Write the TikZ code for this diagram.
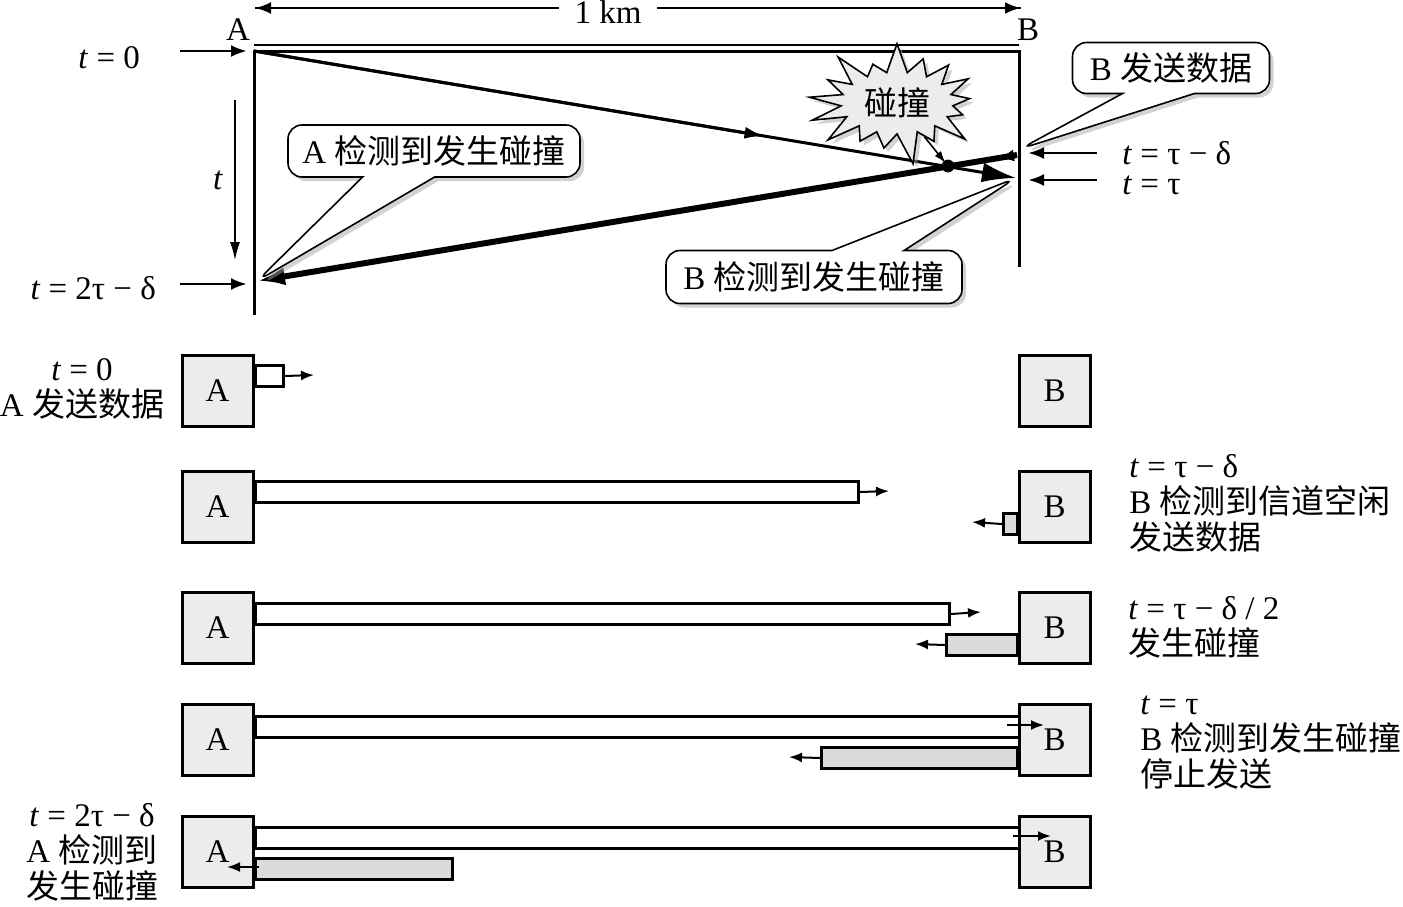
\documentclass[tikz,border=0pt]{standalone}
\usepackage{fontspec}
\setmainfont{Liberation Serif}
\newfontfamily\cjk{Noto Sans CJK SC}
\usetikzlibrary{positioning,arrows.meta,calc,shapes.symbols,shapes.callouts,shadows}
\newcommand{\zh}[1]{{\cjk #1}}

\tikzset{
  every node/.style={font=\fontsize{16.5}{18}\selectfont},
  station/.style={draw,line width=1.5pt,fill=gray!15,minimum size=35.5pt,inner sep=0pt},
  frame/.style={draw,line width=1.5pt,fill=white,inner sep=0pt,minimum height=10.5pt,anchor=north west},
  jam/.style={frame,fill=gray!28},
  sig/.style={-{Latex[length=6.5pt,width=5pt]},line width=1pt},
  pointer/.style={-{Latex[length=8pt,width=6pt]},line width=1.4pt},
  say/.style={rectangle callout,draw,line width=0.8pt,fill=white,rounded corners=7pt,
    drop shadow={shadow xshift=2pt,shadow yshift=-2pt,fill=gray!70},
    callout pointer width=36pt,inner sep=0pt},
  note/.style={align=left,anchor=west,inner sep=0pt}
}

\begin{document}
\begin{tikzpicture}[x=0.5pt,y=-0.5pt]
  \useasboundingbox (0,0) rectangle (1403,906);

  % time diagram
  \coordinate (Atop) at (254,51);
  \coordinate (Btop) at (1019,51);
  \coordinate (Abot) at (254,315);
  \coordinate (Bbot) at (1019,267);
  \coordinate (hit) at (948,166);
  \coordinate (bEnd) at (1016,178);
  \coordinate (bStart) at (1017,155);
  \coordinate (aHit) at (257,281);
  \coordinate (bTip) at (1020,149);

  \draw[line width=1.5pt] (Abot) -- (Atop) -- (Btop) -- (Bbot);
  \draw[line width=1.2pt] ($(Atop)+(0,-6)$) -- ($(Btop)+(0,-6)$);

  \node (lA) at (238,30) {A};
  \node (lB) at (1028,30) {B};
  \coordinate (kmL) at (255,8);
  \coordinate (kmR) at (1021,8);
  \draw[pointer] (kmL) -- (kmR);
  \draw[pointer] (kmR) -- (kmL);
  \node[fill=white,inner xsep=8pt,inner ysep=1pt] (km) at (608,12) {1 km};

  \node[anchor=east] (t0) at (147,58) {\textit{t} = 0};
  \node[anchor=east] (t2) at (163,288) {\textit{t} = 2τ − δ};
  \node (tt) at (218,180) {\textit{t}};
  \node[note] (t1) at (1122,153) {\textit{t} = τ − δ};
  \node[note] (t3) at (1122,185) {\textit{t} = τ};
  \coordinate (t0s) at (180,51);
  \coordinate (t2s) at (180,284);
  \coordinate (t1s) at (1097,153);
  \coordinate (t3s) at (1097,180);
  \coordinate (t1e) at (1028,153);
  \coordinate (t3e) at (1028,180);
  \coordinate (tUp) at (235,100);
  \coordinate (tDn) at (235,260);
  \draw[pointer] (t0s) -- ($(Atop)+(-7,0)$);
  \draw[pointer] (t2s) -- ($(Atop|-t2s)+(-7,0)$);
  \draw[pointer] (t1s) -- (t1e);
  \draw[pointer] (t3s) -- (t3e);
  \draw[-{Latex[length=9pt,width=5pt]},line width=0.7pt] (tUp) -- (tDn);

  % frames on the wire
  \draw[line width=1.5pt,-{Latex[length=17pt,width=10pt]}] (Atop) -- (bEnd);
  \draw[line width=1.5pt,-{Latex[length=10pt,width=6pt]}] (Atop) -- ($(Atop)!0.67!(bEnd)$);
  \draw[line width=3pt,-{Latex[length=14pt,width=9pt]}] (bStart) -- (aHit);
  \draw[line width=1.5pt,-{Latex[length=8pt,width=6pt]}] (bStart) -- ($(bStart)!0.025!(aHit)$);
  \fill (hit) circle (3.2pt);

  \node[starburst,draw,line width=0.8pt,fill=gray!15,minimum width=84pt,minimum height=56pt,
    starburst points=17,starburst point height=16pt,random starburst=40,
    drop shadow={shadow xshift=2pt,shadow yshift=-2pt,fill=gray!70}] (boom) at (897,103) {\zh{碰撞}};
  \draw[-{Latex[length=6pt,width=4pt]},line width=0.8pt,shorten >=2pt] (boom) -- (hit);

  \node[say,minimum width=146pt,minimum height=26pt,callout absolute pointer={(aHit)}]
    (sayA) at (434,151) {A \zh{检测到发生碰撞}};
  \node[say,minimum width=148pt,minimum height=26.5pt,callout absolute pointer={(bEnd)}]
    (sayB) at (814,277) {B \zh{检测到发生碰撞}};
  \node[say,minimum width=98.5pt,minimum height=25.5pt,callout absolute pointer={(bTip)}]
    (sendB) at (1171,68) {B \zh{发送数据}};

  % five snapshots
  \node[frame,minimum width=14pt] (f1) at (254,364) {};
  \node[frame,minimum width=301.5pt] (f2) at (254,480) {};
  \node[jam,minimum width=7pt,anchor=north east] (g2) at (1019,512) {};
  \node[frame,minimum width=347pt] (f3) at (254,602) {};
  \node[jam,minimum width=35.5pt,anchor=north east] (g3) at (1019,633) {};
  \node[frame,minimum width=382.5pt] (f4) at (254,715) {};
  \node[jam,minimum width=98pt,anchor=north east] (g4) at (1019,746) {};
  \node[frame,minimum width=382.5pt] (f5) at (254,826) {};
  \node[jam,minimum width=98.5pt] (g5) at (254,857) {};

  \node[station] (A1) at (217.5,391) {A};
  \node[station] (B1) at (1054.5,391) {B};
  \node[station] (A2) at (217.5,507) {A};
  \node[station] (B2) at (1054.5,507) {B};
  \node[station] (A3) at (217.5,627.5) {A};
  \node[station] (B3) at (1054.5,627.5) {B};
  \node[station] (A4) at (217.5,740) {A};
  \node[station] (B4) at (1054.5,740) {B};
  \node[station] (A5) at (217.5,851.5) {A};
  \node[station] (B5) at (1054.5,851.5) {B};

  \coordinate (f1t) at (314,375);
  \coordinate (f2t) at (889,491);
  \coordinate (g2t) at (972,522);
  \coordinate (f3t) at (981,612);
  \coordinate (g3t) at (915,644);
  \coordinate (f4s) at (1007,725);
  \coordinate (f4t) at (1044,725);
  \coordinate (g4t) at (789,757);
  \coordinate (f5s) at (1013,836);
  \coordinate (f5t) at (1051,836);
  \coordinate (g5s) at (259,867);
  \coordinate (g5t) at (227,867);
  \draw[sig] (f1.east) -- (f1t);
  \draw[sig] (f2.east) -- (f2t);
  \draw[sig] (g2.west) -- (g2t);
  \draw[sig] (f3.east) -- (f3t);
  \draw[sig] (g3.west) -- (g3t);
  \draw[sig] (f4s) -- (f4t);
  \draw[sig] (g4.west) -- (g4t);
  \draw[sig] (f5s) -- (f5t);
  \draw[sig] (g5s) -- (g5t);

  \node[align=center] (n1) at (82,389) {\textit{t} = 0\\A \zh{发送数据}};
  \node[note] (n2) at (1129,503) {\textit{t} = τ − δ\\B \zh{检测到信道空闲}\\\zh{发送数据}};
  \node[note] (n3) at (1128,627) {\textit{t} = τ − δ / 2\\\zh{发生碰撞}};
  \node[note] (n4) at (1140,743) {\textit{t} = τ\\B \zh{检测到发生碰撞}\\\zh{停止发送}};
  \node[align=center] (n5) at (92,852) {\textit{t} = 2τ − δ\\A \zh{检测到}\\\zh{发生碰撞}};
\end{tikzpicture}
\end{document}
